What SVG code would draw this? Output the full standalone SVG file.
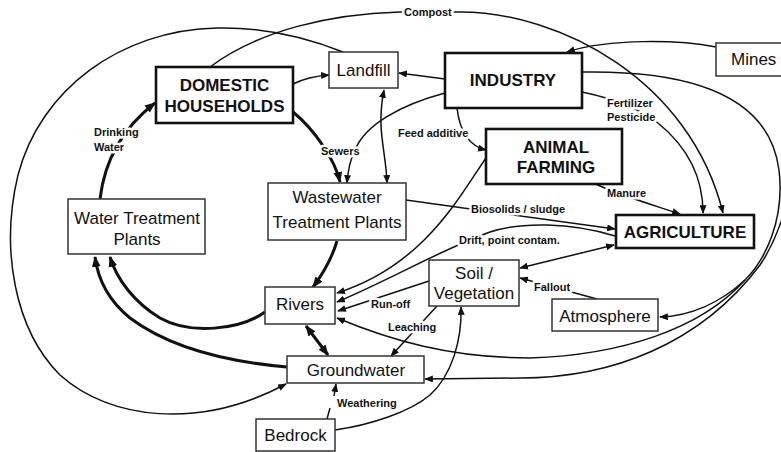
<svg xmlns="http://www.w3.org/2000/svg" width="781" height="452" viewBox="0 0 781 452">
<style>
.bg{fill:#fff}
.box{fill:#fff;stroke:#333;stroke-width:1.5}
.bbox{fill:#fff;stroke:#111;stroke-width:2.6}
.nt{font-family:"Liberation Sans",Arial,sans-serif;font-size:17px;fill:#111;text-anchor:middle}
.bt{font-family:"Liberation Sans",Arial,sans-serif;font-size:17px;font-weight:bold;fill:#111;text-anchor:middle}
.c{fill:none;stroke:#111;stroke-width:1.5;marker-end:url(#a)}
.cn{fill:none;stroke:#111;stroke-width:1.5}
.t{fill:none;stroke:#111;stroke-width:3;marker-end:url(#at)}
.d{marker-start:url(#a)}
.dt{marker-start:url(#at)}
.lbl{font-family:"Liberation Sans",Arial,sans-serif;font-size:11px;font-weight:bold;fill:#111;stroke:#fff;stroke-width:5;paint-order:stroke;stroke-linejoin:round}
</style>
<defs>
<marker id="a" viewBox="0 0 10 8" refX="9" refY="4" markerWidth="9" markerHeight="7" markerUnits="userSpaceOnUse" orient="auto-start-reverse"><path d="M0,0 L10,4 L0,8 z" fill="#111"/></marker>
<marker id="at" viewBox="0 0 10 8" refX="9" refY="4" markerWidth="11" markerHeight="9" markerUnits="userSpaceOnUse" orient="auto-start-reverse"><path d="M0,0 L10,4 L0,8 z" fill="#111"/></marker>
</defs>
<rect class="bg" x="0" y="0" width="781" height="452"/>
<g id="connectors">
<!-- Compost -->
<path class="c" d="M210,67 C260,30 330,14 400,12 L460,12 C560,12 690,80 723,213"/>
<!-- Landfill big arc to Groundwater -->
<path class="c" d="M343,52 C300,35 260,27 217,28 C120,30 40,90 18,175 C0,250 15,330 60,375 C110,420 200,430 286,384"/>
<!-- Domestic -> Landfill -->
<path class="c" d="M293,84 C305,78 315,76 329,75"/>
<!-- Industry -> Landfill -->
<path class="c" d="M445,79 L399,73"/>
<!-- Landfill <-> WWTP -->
<path class="c d" d="M384,90 C376,130 386,150 387,183"/>
<!-- Industry -> WWTP (sewers) -->
<path class="c" d="M445,93 C400,105 365,125 355,150 C350,160 348,170 347,183"/>
<!-- Feed additive -->
<path class="c" d="M457,108 C459,125 465,145 486,150"/>
<!-- Fertilizer / Pesticide -->
<path class="c" d="M582,92 C620,100 640,110 658,123 C685,145 703,175 703,213"/>
<!-- Mines -> Industry -->
<path class="c" d="M716,47 C680,40 610,38 567,52"/>
<!-- Manure -->
<path class="c" d="M594,183 C610,192 650,204 680,214"/>
<!-- Biosolids -->
<path class="c" d="M406,200 L615,229"/>
<!-- Animal farming -> Rivers -->
<path class="c" d="M486,158 C460,195 425,265 337,293"/>
<!-- Drift -->
<path class="c" d="M615,236 C570,222 520,222 490,232 C440,250 390,280 337,302"/>
<!-- Soil <-> Agriculture -->
<path class="c d" d="M520,268 L614,245"/>
<!-- Fallout -->
<path class="c" d="M597,299 L520,278"/>
<!-- Run-off -->
<path class="c" d="M429,281 L338,311"/>
<!-- Leaching -->
<path class="c" d="M437,306 L391,356"/>
<!-- Weathering: Bedrock -> Groundwater -->
<path class="cn" d="M327,419 L330,408"/>
<path class="c" d="M334,396 L336,384"/>
<!-- Bedrock -> Soil -->
<path class="c" d="M335,430 C370,425 410,412 430,395 C452,375 462,340 461,307"/>
<!-- Industry -> Atmosphere -->
<path class="c" d="M582,72 C700,70 770,100 779,170 C785,220 765,260 745,280 C720,303 690,316 660,317"/>
<!-- Industry -> Rivers -->
<path class="c" d="M745,280 C700,330 620,355 530,358 C450,358 390,340 337,318"/>
<!-- Mines -> Groundwater -->
<path class="c" d="M800,60 C800,160 790,220 760,265 C700,345 610,378 520,378 L425,379"/>
<!-- thick water cycle -->
<path class="t" d="M293,112 C315,130 335,160 340,182"/>
<path class="t" d="M337,241 C332,258 322,275 313,287"/>
<path class="t" d="M265,312 C240,330 190,335 160,318 C135,303 117,280 110,257"/>
<path class="t" d="M287,367 C230,362 170,348 130,318 C108,300 98,280 95,257"/>
<path class="t" d="M100,199 C104,165 120,130 155,103"/>
<path class="t dt" d="M306,326 L328,355"/>
</g>
<g id="labels">
<text class="lbl" x="404" y="16">Compost</text>
<text class="lbl" x="94" y="136">Drinking</text>
<text class="lbl" x="94" y="151">Water</text>
<text class="lbl" x="321" y="155">Sewers</text>
<text class="lbl" x="398" y="137">Feed additive</text>
<text class="lbl" x="607" y="107">Fertilizer</text>
<text class="lbl" x="607" y="121">Pesticide</text>
<text class="lbl" x="607" y="197">Manure</text>
<text class="lbl" x="471" y="213">Biosolids / sludge</text>
<text class="lbl" x="459" y="244">Drift, point contam.</text>
<text class="lbl" x="371" y="308">Run-off</text>
<text class="lbl" x="534" y="291">Fallout</text>
<text class="lbl" x="388" y="331">Leaching</text>
<text class="lbl" x="337" y="407">Weathering</text>
</g>
<g id="domestic"><rect class="bbox" x="156" y="67" width="137" height="56"/><text class="bt" x="224.5" y="91">DOMESTIC</text><text class="bt" x="224.5" y="112">HOUSEHOLDS</text></g>
<g id="landfill"><rect class="box" x="329" y="52" width="69" height="36"/><text class="nt" x="363.5" y="76">Landfill</text></g>
<g id="industry"><rect class="bbox" x="445" y="53" width="137" height="55"/><text class="bt" x="513" y="86">INDUSTRY</text></g>
<g id="mines"><rect class="box" x="716" y="43" width="80" height="33"/><text class="nt" x="731" y="65" style="text-anchor:start">Mines</text></g>
<g id="animal"><rect class="bbox" x="486" y="129" width="136" height="55"/><text class="bt" x="556" y="153">ANIMAL</text><text class="bt" x="556" y="173">FARMING</text></g>
<g id="agriculture"><rect class="bbox" x="616" y="215" width="138" height="33"/><text class="bt" x="685" y="238">AGRICULTURE</text></g>
<g id="wtp"><rect class="box" x="68" y="199" width="137" height="55"/><text class="nt" x="137" y="224">Water Treatment</text><text class="nt" x="137" y="245">Plants</text></g>
<g id="wwtp"><rect class="box" x="268" y="183" width="138" height="57"/><text class="nt" x="337" y="203">Wastewater</text><text class="nt" x="337" y="228">Treatment Plants</text></g>
<g id="rivers"><rect class="box" x="265" y="287" width="70" height="37"/><text class="nt" x="300" y="310">Rivers</text></g>
<g id="soil"><rect class="box" x="429" y="260" width="90" height="46"/><text class="nt" x="474" y="279">Soil /</text><text class="nt" x="474" y="299">Vegetation</text></g>
<g id="atmosphere"><rect class="box" x="552" y="299" width="106" height="32"/><text class="nt" x="605" y="322">Atmosphere</text></g>
<g id="groundwater"><rect class="box" x="287" y="356" width="137" height="27"/><text class="nt" x="356" y="376">Groundwater</text></g>
<g id="bedrock"><rect class="box" x="256" y="419" width="79" height="32"/><text class="nt" x="295.5" y="441">Bedrock</text></g>
</svg>
